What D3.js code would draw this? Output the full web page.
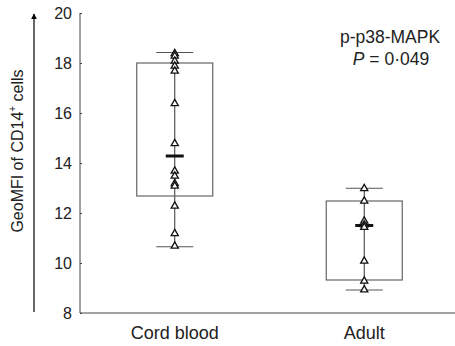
<!DOCTYPE html>
<html><head><meta charset="utf-8">
<script src="https://cdnjs.cloudflare.com/ajax/libs/d3/7.8.5/d3.min.js"></script>
<style>body{margin:0;background:#fff}svg{display:block}text{font-family:"Liberation Sans",Arial,sans-serif}</style>
</head><body><svg id="c" width="455" height="346"></svg>
<script>
const categories = ["Cord blood", "Adult"];
const cordBlood = [18.4, 18.3, 18.1, 17.9, 17.7, 16.4, 14.8, 13.7, 13.5, 13.2, 13.1, 12.3, 11.2, 10.7];
const adult = [13.0, 12.5, 11.7, 11.55, 11.45, 10.1, 9.3, 8.95];
const medians = [14.28, 11.5];
const q1 = [12.68, 9.32];
const q3 = [18.0, 12.48];
const whiskerLow = [10.65, 8.92];
const whiskerHigh = [18.42, 12.99];
const yTicks = [8, 10, 12, 14, 16, 18, 20];

const svg = d3.select("#c");
const y = d3.scaleLinear().domain([8, 20]).range([313, 13]);
const x = d3.scalePoint().domain(categories).range([80, 459]).padding(0.5);
const series = [cordBlood, adult];
const axisCol = "#444";

// y axis
const ya = svg.append("g").attr("transform", "translate(80,0)")
  .call(d3.axisLeft(y).tickValues(yTicks).tickSize(-2).tickPadding(8));
ya.select(".domain").attr("stroke", axisCol).attr("d", "M0," + y(20) + "V" + y(8));
ya.selectAll(".tick line").attr("stroke", axisCol);
ya.selectAll(".tick text").attr("font-size", 16).attr("fill", "#222").attr("font-family", "Liberation Sans, Arial, sans-serif");

// x axis
svg.append("line").attr("x1", 80).attr("x2", 455).attr("y1", y(8)).attr("y2", y(8)).attr("stroke", axisCol);
svg.selectAll(".xl").data(categories).enter().append("text")
  .attr("x", d => x(d)).attr("y", 339).attr("text-anchor", "middle")
  .attr("font-size", 18).attr("fill", "#222").text(d => d);

// y label + arrow
svg.append("defs").append("marker").attr("id", "ah").attr("viewBox", "0 0 10 10")
  .attr("refX", 9).attr("refY", 5).attr("markerWidth", 6).attr("markerHeight", 7)
  .attr("orient", "auto").attr("markerUnits", "userSpaceOnUse")
  .append("path").attr("d", "M0,0L10,5L0,10Z").attr("fill", "#000");
svg.append("line").attr("x1", 34).attr("x2", 34).attr("y1", 312).attr("y2", 14)
  .attr("stroke", "#000").attr("stroke-width", 1.2).attr("marker-end", "url(#ah)");
const yl = svg.append("text").attr("transform", "translate(23,151) rotate(-90)")
  .attr("text-anchor", "middle").attr("font-size", 16).attr("fill", "#222");
yl.append("tspan").text("GeoMFI of CD14");
yl.append("tspan").attr("font-size", 10).attr("dy", -7).text("+");
yl.append("tspan").attr("dy", 7).text(" cells");

// boxes
const boxW = 76, capW = 37, medW = 18;
categories.forEach((c, i) => {
  const cx = x(c);
  const g = svg.append("g");
  g.append("line").attr("x1", cx).attr("x2", cx).attr("y1", y(whiskerHigh[i])).attr("y2", y(whiskerLow[i])).attr("stroke", "#333").attr("stroke-width", 1);
  g.append("rect").attr("x", cx - boxW / 2).attr("width", boxW).attr("y", y(q3[i])).attr("height", y(q1[i]) - y(q3[i]))
    .attr("fill", "none").attr("stroke", "#666").attr("stroke-width", 1.2);
  [whiskerHigh[i], whiskerLow[i]].forEach(v => g.append("line").attr("x1", cx - capW / 2).attr("x2", cx + capW / 2)
    .attr("y1", y(v)).attr("y2", y(v)).attr("stroke", "#555").attr("stroke-width", 1));
  g.append("line").attr("x1", cx - medW / 2).attr("x2", cx + medW / 2).attr("y1", y(medians[i])).attr("y2", y(medians[i]))
    .attr("stroke", "#111").attr("stroke-width", 3);
  const tri = d3.symbol().type(d3.symbolTriangle).size(22);
  g.selectAll("path.pt").data(series[i]).enter().append("path").attr("class", "pt")
    .attr("d", tri).attr("transform", d => `translate(${cx},${y(d) + 0.5})`)
    .attr("fill", "#fff").attr("stroke", "#111").attr("stroke-width", 1.3);
});

// annotation
svg.append("text").attr("x", 390).attr("y", 43).attr("text-anchor", "middle").attr("font-size", 17.5).attr("fill", "#222").text("p-p38-MAPK");
const pt = svg.append("text").attr("x", 391).attr("y", 65).attr("text-anchor", "middle").attr("font-size", 17.5).attr("fill", "#222");
pt.append("tspan").attr("font-style", "italic").text("P");
pt.append("tspan").text(" = 0·049");
</script></body></html>
